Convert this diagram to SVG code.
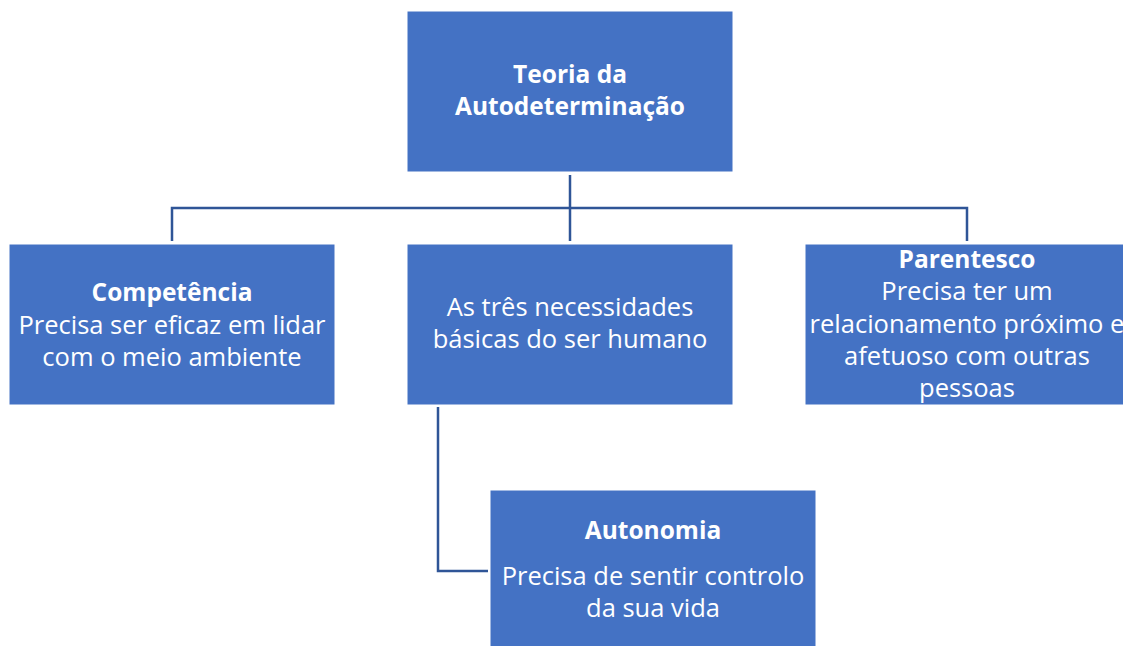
<svg xmlns="http://www.w3.org/2000/svg" width="1123" height="646" viewBox="0 0 1123 646">
<style>
.box{fill:#4472C4;stroke:#ffffff;stroke-width:1}
.t{font-family:"Open Sans","Liberation Sans",sans-serif;font-size:25.5px;fill:#ffffff;text-anchor:middle}
.b{font-weight:bold;font-size:24.5px}
.c{fill:none;stroke:#2F5597;stroke-width:2.5}
</style>
<rect width="1123" height="646" fill="#ffffff"/>
<g id="connectors">
<path class="c" d="M570 175 V241"/>
<path class="c" d="M172 241 V208 H967 V241"/>
<path class="c" d="M438 407 V571 H488"/>
</g>
<g id="root">
<rect class="box" x="407" y="11" width="326" height="161"/>
<text class="t b" x="570" y="83">Teoria da</text>
<text class="t b" x="570" y="115">Autodeterminação</text>
</g>
<g id="competencia">
<rect class="box" x="9" y="244" width="326" height="161"/>
<text class="t b" x="172" y="301">Competência</text>
<text class="t" x="172" y="334">Precisa ser eficaz em lidar</text>
<text class="t" x="172" y="366">com o meio ambiente</text>
</g>
<g id="necessidades">
<rect class="box" x="407" y="244" width="326" height="161"/>
<text class="t" x="570" y="316">As três necessidades</text>
<text class="t" x="570" y="348">básicas do ser humano</text>
</g>
<g id="parentesco">
<rect class="box" x="805" y="244" width="326" height="161"/>
<text class="t b" x="967" y="268">Parentesco</text>
<text class="t" x="967" y="300">Precisa ter um</text>
<text class="t" x="967" y="333">relacionamento próximo e</text>
<text class="t" x="967" y="365">afetuoso com outras</text>
<text class="t" x="967" y="397">pessoas</text>
</g>
<g id="autonomia">
<rect class="box" x="490" y="490" width="326" height="160"/>
<text class="t b" x="653" y="539">Autonomia</text>
<text class="t" x="653" y="585">Precisa de sentir controlo</text>
<text class="t" x="653" y="617">da sua vida</text>
</g>
</svg>
